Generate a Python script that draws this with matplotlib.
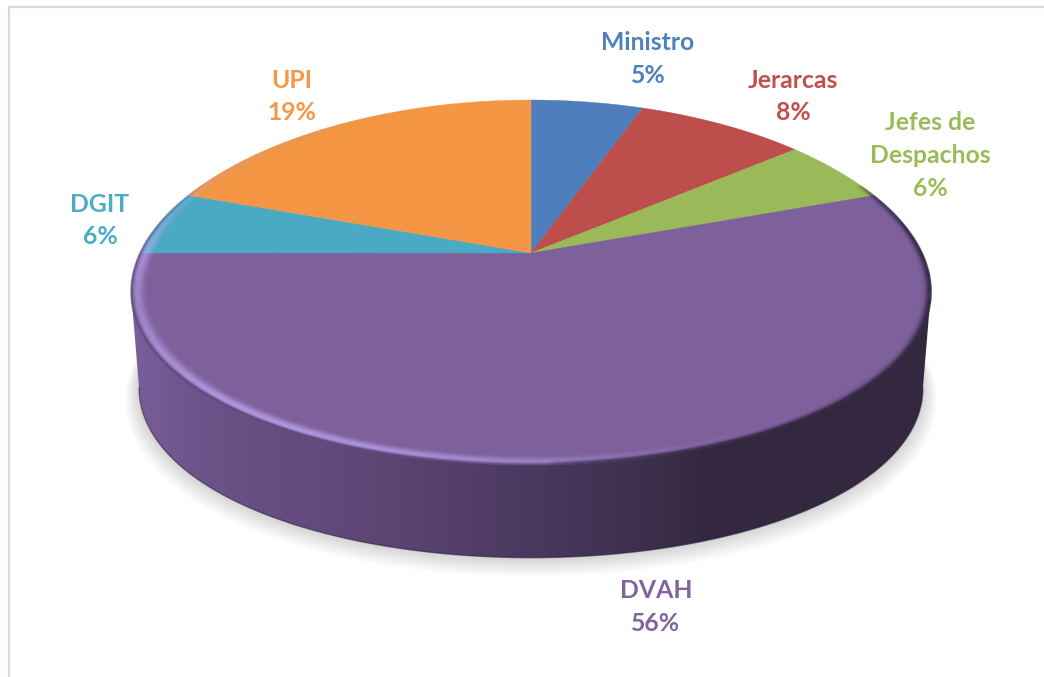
import numpy as np
import matplotlib
matplotlib.use("Agg")
import matplotlib.pyplot as plt
from matplotlib.patches import Polygon
from matplotlib.collections import LineCollection
from matplotlib.colors import LinearSegmentedColormap

categories = ["Ministro", "Jerarcas", "Jefes de\nDespachos", "DVAH", "DGIT", "UPI"]
shares = [5.56, 8.33, 5.56, 55.56, 5.56, 19.43]
percent_labels = ["5%", "8%", "6%", "56%", "6%", "19%"]
slice_colors = ["#4e7fbc", "#bd4e4b", "#9ab958", "#7e609b", "#4aa9c4", "#f49644"]
text_colors = ["#4f81bd", "#c0504d", "#9bbb59", "#8064a2", "#4bacc6", "#f79646"]
label_centers = [(648, 43), (793, 80), (930, 123), (656, 591), (100, 204), (292, 80)]

LINE_STEP = 32.7
CX, CY = 531.0, 253.0
R, A, K, KX = 391.0, 177.7, 0.1616, 0.21
BASE_SCALE, BASE_DY = 0.98, 97.0

fig = plt.figure(figsize=(10.44, 6.77), dpi=100, facecolor="white")
ax = fig.add_axes([0, 0, 1, 1])


def project(theta_deg, r=1.0):
    """Clockwise angle from the top of the disc to picture position."""
    t = np.radians(90 - np.asarray(theta_deg, dtype=float))
    u, v = r * np.cos(t), r * np.sin(t)
    return CX + R * u / (1 + KX * v), CY - A * v / (1 + K * v)


def base(x, y, grow=1.0, dy=0.0):
    bx = CX + (x - CX) * BASE_SCALE * grow
    by = CY + (y - CY) * BASE_SCALE
    by = (by + BASE_DY - 380) * grow + 380 + dy
    return bx, by


# soft shadow under the disc
theta_all = np.linspace(0, 360, 721)
for g, dy in zip(np.linspace(1.036, 1.0, 22), np.linspace(13, 0, 22)):
    sx, sy = base(*project(theta_all), grow=g, dy=dy)
    ax.add_patch(Polygon(np.c_[sx, sy], closed=True, fc="black", ec="none",
                         alpha=0.007, zorder=1))

# side wall with a horizontal light-to-dark gradient
theta_w = np.degrees(np.arcsin(KX))  # silhouette tangent, below the horizontal
theta_front = np.linspace(90 + theta_w, 270 - theta_w, 360)
wx, wy = project(theta_front)
bx, by = base(wx, wy)
wall = np.r_[np.c_[bx, by], [[wx[-1], wy[-1]]], [[wx[0], wy[0]]]]
wall_patch = Polygon(wall, closed=True, fc="none", ec="none")
ax.add_patch(wall_patch)
xs = np.linspace(125, 940, 816)
grad_cmap = LinearSegmentedColormap.from_list(
    "wall",
    [(0.0, "#7b5f9c"), (0.09, "#6c5389"), (0.33, "#5c4473"), (0.5, "#4a385f"),
     (0.63, "#3d304e"), (0.72, "#33283f"), (1.0, "#33283f")],
)
im = ax.imshow(((xs - 125) / 815)[None, :], extent=(125, 940, 570, 270),
               cmap=grad_cmap, vmin=0, vmax=1, aspect="auto", zorder=2,
               interpolation="bilinear")
im.set_clip_path(wall_patch)
ax.plot(bx, by, color="#2c2136", lw=1.0, alpha=0.55, zorder=2.5)

# top face: slices from the shares
edges = np.r_[0, np.cumsum(shares)] / np.sum(shares) * 360
for start, stop, col in zip(edges[:-1], edges[1:], slice_colors):
    th = np.linspace(start, stop, max(int(stop - start) * 2, 8))
    px, py = project(th)
    pts = np.r_[[[CX, CY]], np.c_[px, py]]
    ax.add_patch(Polygon(pts, closed=True, fc=col, ec=col, lw=0.3, zorder=3))

# bevel along the rim of the top face
th = np.linspace(0, 360, 1081)
mid = (th[:-1] + th[1:]) / 2
light = 0.40 * np.exp(-((mid - 225) / 50) ** 2) + 0.16 * np.exp(-((mid - 268) / 10) ** 2)
dark = 0.95 * np.clip(1 - ((mid - 122) / 56) ** 2, 0, 1) ** 0.6
for r in np.linspace(1.0, 0.955, 20):
    lx, ly = project(th, r)
    segs = np.stack([np.c_[lx[:-1], ly[:-1]], np.c_[lx[1:], ly[1:]]], axis=1)
    f = (1 - r) / 0.045
    prof_l = np.exp(-((f - 0.30) / 0.34) ** 2)
    cols = np.zeros((len(mid), 4))
    cols[:, :3] = (0.78, 0.70, 1.0)
    cols[:, 3] = light * prof_l
    ax.add_collection(LineCollection(segs, colors=cols, linewidths=1.3, zorder=4))
    prof_d = np.exp(-(f / 0.22) ** 2)
    cols = np.zeros((len(mid), 4))
    cols[:, :3] = (0.2, 0.157, 0.247)
    cols[:, 3] = dark * prof_d
    ax.add_collection(LineCollection(segs, colors=cols, linewidths=1.3, zorder=4.1))
    # the highlight rolls into the wall on its outer side
    prof_e = np.exp(-(f / 0.12) ** 2)
    front = np.clip(1 - ((mid - 225) / 70) ** 2, 0, 1)
    cols = np.zeros((len(mid), 4))
    cols[:, :3] = (0.30, 0.22, 0.40)
    cols[:, 3] = 0.55 * front * prof_e
    ax.add_collection(LineCollection(segs, colors=cols, linewidths=1.3, zorder=4.2))

# labels
for name, pct, col, (lx, ly) in zip(categories, percent_labels, text_colors, label_centers):
    for i, line in enumerate((name + "\n" + pct).split("\n")):
        ax.text(lx, ly + i * LINE_STEP, line, color=col, ha="center", va="center",
                family="Lato", fontweight="bold", fontsize=17.8, zorder=6)

# chart frame
ax.plot([9, 9, 1044], [677, 7, 7], color="#d9d9d9", lw=1.6, zorder=0.5,
        solid_joinstyle="miter")

ax.set_xlim(0, 1044)
ax.set_ylim(677, 0)
ax.axis("off")
fig.savefig("out.png", dpi=100, facecolor="white")
